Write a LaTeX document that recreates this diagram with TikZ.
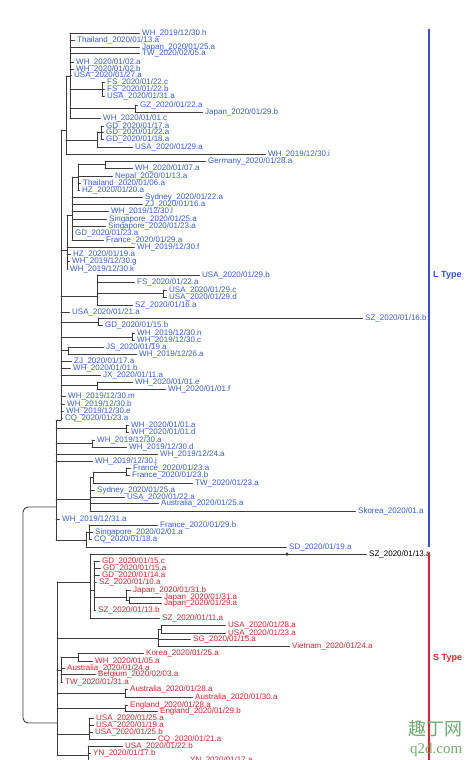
\documentclass[tikz,border=0pt]{standalone}
\usepackage{fontspec}
\setmainfont{Liberation Sans}
\newfontfamily\cjkfont{Noto Sans CJK SC}
\newfontfamily\serfont{Liberation Serif}
\definecolor{lblue}{RGB}{55,95,225}
\definecolor{lred}{RGB}{225,35,45}
\definecolor{barblue}{RGB}{50,80,240}
\definecolor{barred}{RGB}{235,30,40}
\definecolor{treec}{RGB}{60,60,60}
\definecolor{wmark}{RGB}{110,175,110}
\tikzset{
 br/.style={draw=treec, line width=0.9pt, line cap=round},
 labbase/.style={anchor=west, inner sep=0pt, font=\fontsize{8}{8}\selectfont},
 labL/.style={labbase, text=lblue},
 labS/.style={labbase, text=lred},
 labK/.style={labbase, text=black},
 typelab/.style={anchor=west, inner sep=0pt, font=\bfseries\fontsize{9}{9}\selectfont},
}
% leaf: style, name, parent x, label x, y, text
\newcommand\lf[6]{\node[#1] (#2) at (#4,#5) {#6};\coordinate (#2p) at (#3,#5);\draw[br] (#2p) -- ([xshift=-2.5pt]#2.west);}
% vertical of an inner node: name, x, ytop, ybottom
\newcommand\vn[4]{\coordinate (#1t) at (#2,#3);\coordinate (#1b) at (#2,#4);\draw[br] (#1t) -- (#1b);}
% horizontal join: name, x from, x to, y
\newcommand\hj[4]{\coordinate (#1l) at (#2,#4);\coordinate (#1r) at (#3,#4);\draw[br] (#1l) -- (#1r);}
\begin{document}
\begin{tikzpicture}[x=1pt,y=-1pt]
\fill[white] (0,0) rectangle (473,760);
\useasboundingbox (0,0) rectangle (473,760);
% ---------- L type backbone
\vn{B1}{70}{33}{118}
\vn{B2}{66}{76}{154}
\hj{j1}{66}{70}{76}
\vn{B3}{61}{130}{420}
\hj{j2}{61}{66}{130}
\vn{B4}{56}{420}{540}
\hj{j3}{56}{61}{420}
% top clade
\lf{labL}{l1}{70}{142}{33}{WH\_2019/12/30.h}
\lf{labL}{l2}{70}{77}{40}{Thailand\_2020/01/13.a}
\lf{labL}{l3}{70}{142}{47}{Japan\_2020/01/25.a}
\lf{labL}{l4}{70}{142}{53}{TW\_2020/02/05.a}
\lf{labL}{l5}{70}{76}{62}{WH\_2020/01/02.a}
\lf{labL}{l6}{70}{76}{69}{WH\_2020/01/02.b}
\lf{labL}{l7}{70}{74}{75}{USA\_2020/01/27.a}
\vn{N1}{102}{82}{96}\hj{j4}{70}{102}{89}
\lf{labL}{l8}{102}{107}{82}{FS\_2020/01/22.c}
\lf{labL}{l9}{102}{107}{89}{FS\_2020/01/22.b}
\lf{labL}{l10}{102}{107}{96}{USA\_2020/01/31.a}
\vn{N2}{135}{105}{112}\hj{j5}{70}{135}{108}
\lf{labL}{l11}{135}{140}{105}{GZ\_2020/01/22.a}
\lf{labL}{l12}{135}{205}{112}{Japan\_2020/01/29.b}
\lf{labL}{l13}{70}{103}{118}{WH\_2020/01/01.c}
% GD clade
\vn{N3}{101}{126}{139}\vn{N4}{97}{132}{147}
\hj{j6}{97}{101}{132}\hj{j7}{66}{97}{140}
\lf{labL}{l14}{101}{106}{126}{GD\_2020/01/17.a}
\lf{labL}{l15}{101}{106}{132}{GD\_2020/01/22.a}
\lf{labL}{l16}{101}{106}{139}{GD\_2020/01/18.a}
\lf{labL}{l17}{97}{135}{147}{USA\_2020/01/29.a}
\lf{labL}{l18}{66}{268}{154}{WH\_2019/12/30.i}
% C clade
\vn{C1}{78}{164}{190}
\vn{N5}{105}{161}{168}\hj{j8}{78}{105}{164}
\lf{labL}{l19}{105}{208}{161}{Germany\_2020/01/28.a}
\lf{labL}{l20}{105}{135}{168}{WH\_2020/01/07.a}
\lf{labL}{l21}{78}{115}{176}{Nepal\_2020/01/13.a}
\lf{labL}{l22}{78}{83}{183}{Thailand\_2020/01/06.a}
\lf{labL}{l23}{78}{82}{190}{HZ\_2020/01/20.a}
\vn{C2}{72}{177}{240}\hj{j9}{72}{78}{177}
\lf{labL}{l24}{72}{145}{197}{Sydney\_2020/01/22.a}
\lf{labL}{l25}{72}{145}{204}{ZJ\_2020/01/16.a}
\lf{labL}{l26}{72}{111}{211}{WH\_2019/12/30.l}
\lf{labL}{l27}{72}{109}{219}{Singapore\_2020/01/25.a}
\lf{labL}{l28}{72}{108}{226}{Singapore\_2020/01/23.a}
\lf{labL}{l29}{72}{75}{233}{GD\_2020/01/23.a}
\lf{labL}{l30}{72}{106}{240}{France\_2020/01/29.a}
\vn{C3}{67}{215}{269}\hj{j10}{67}{72}{215}
\lf{labL}{l31}{67}{137}{247}{WH\_2019/12/30.f}
\lf{labL}{l32}{67}{73}{254}{HZ\_2020/01/19.a}
\lf{labL}{l33}{67}{72}{261}{WH\_2019/12/30.g}
\lf{labL}{l34}{67}{70}{269}{WH\_2019/12/30.k}
\hj{j11}{61}{67}{250}
% D clade
\vn{D1}{97}{275}{305}\hj{j12}{61}{97}{296}
\lf{labL}{l35}{97}{202}{275}{USA\_2020/01/29.b}
\lf{labL}{l36}{97}{137}{282}{FS\_2020/01/22.a}
\vn{N6}{163}{290}{297}\hj{j13}{97}{163}{293}
\lf{labL}{l37}{163}{169}{290}{USA\_2020/01/29.c}
\lf{labL}{l38}{163}{169}{297}{USA\_2020/01/29.d}
\lf{labL}{l39}{97}{135}{305}{SZ\_2020/01/16.a}
\lf{labL}{l40}{61}{72}{312}{USA\_2020/01/21.a}
\vn{N7}{98}{318}{325}\hj{j14}{61}{98}{322}
\lf{labL}{l41}{98}{365}{318}{SZ\_2020/01/16.b}
\lf{labL}{l42}{98}{105}{325}{GD\_2020/01/15.b}
\vn{N8}{132}{333}{340}\hj{j15}{61}{132}{337}
\lf{labL}{l43}{132}{137}{333}{WH\_2019/12/30.n}
\lf{labL}{l44}{132}{137}{340}{WH\_2019/12/30.c}
\vn{N9}{68}{347}{354}\hj{j16}{61}{68}{350}
\lf{labL}{l45}{68}{106}{347}{JS\_2020/01/19.a}
\lf{labL}{l46}{68}{139}{354}{WH\_2019/12/26.a}
\lf{labL}{l47}{61}{74}{361}{ZJ\_2020/01/17.a}
\lf{labL}{l48}{61}{73}{368}{WH\_2020/01/01.b}
\lf{labL}{l49}{61}{103}{375}{JX\_2020/01/11.a}
\vn{N10}{97}{382}{389}\hj{j17}{61}{97}{385}
\lf{labL}{l50}{97}{135}{382}{WH\_2020/01/01.e}
\lf{labL}{l51}{97}{168}{389}{WH\_2020/01/01.f}
\lf{labL}{l52}{61}{68}{396}{WH\_2019/12/30.m}
\lf{labL}{l53}{61}{67}{404}{WH\_2019/12/30.b}
\lf{labL}{l54}{61}{66}{411}{WH\_2019/12/30.e}
\lf{labL}{l55}{61}{65}{418}{CQ\_2020/01/23.a}
% B4 part
\vn{N11}{126}{425}{432}\hj{j18}{56}{126}{428}
\lf{labL}{l56}{126}{131}{425}{WH\_2020/01/01.a}
\lf{labL}{l57}{126}{131}{432}{WH\_2020/01/01.d}
\vn{N12}{92}{440}{447}\hj{j19}{56}{92}{443}
\lf{labL}{l58}{92}{97}{440}{WH\_2019/12/30.a}
\lf{labL}{l59}{92}{129}{447}{WH\_2019/12/30.d}
\lf{labL}{l60}{56}{160}{454}{WH\_2019/12/24.a}
\lf{labL}{l61}{56}{95}{461}{WH\_2019/12/30.j}
\vn{E1}{90}{477}{511}\hj{j20}{56}{90}{499}
\vn{F2}{93}{472}{483}\hj{j21}{90}{93}{477}
\vn{F1}{126}{468}{475}\hj{j22}{93}{126}{472}
\lf{labL}{l62}{126}{133}{468}{France\_2020/01/23.a}
\lf{labL}{l63}{126}{132}{475}{France\_2020/01/23.b}
\lf{labL}{l64}{93}{195}{483}{TW\_2020/01/23.a}
\lf{labL}{l65}{90}{97}{490}{Sydney\_2020/01/25.a}
\lf{labL}{l66}{90}{127}{497}{USA\_2020/01/22.a}
\lf{labL}{l67}{90}{161}{503}{Australia\_2020/01/25.a}
\lf{labL}{l68}{90}{358}{511}{Skorea\_2020/01.a}
\lf{labL}{l69}{56}{62}{519}{WH\_2019/12/31.a}
\vn{G2}{86}{532}{547}\hj{j23}{56}{86}{540}
\vn{G1}{89}{525}{539}\hj{j24}{86}{89}{532}
\lf{labL}{l70}{89}{160}{525}{France\_2020/01/29.b}
\lf{labL}{l71}{89}{95}{532}{Singapore\_2020/02/01.a}
\lf{labL}{l72}{89}{94}{539}{CQ\_2020/01/18.a}
\lf{labL}{l73}{86}{289}{547}{SD\_2020/01/19.a}
% ---------- root
\coordinate (rt) at (56,507);
\coordinate (rb) at (57,723);
\draw[br, rounded corners=5pt] (rt) -- (23,507) -- (23,723) -- (rb);
% ---------- S type
\vn{S1}{90}{554}{618}
\vn{SB}{57}{582}{755}
\hj{j25}{57}{90}{582}
\lf{labK}{k1}{90}{369}{554}{SZ\_2020/01/13.a}
\node[circle, fill=treec, inner sep=0pt, minimum size=3.5pt] (dot) at (287,554) {};
\vn{S2}{94}{561}{610}\hj{j26}{90}{94}{590}
\lf{labS}{s1}{94}{102}{561}{GD\_2020/01/15.c}
\lf{labS}{s2}{94}{103}{568}{GD\_2020/01/15.a}
\lf{labS}{s3}{94}{102}{575}{GD\_2020/01/14.a}
\lf{labS}{s4}{94}{99}{582}{SZ\_2020/01/10.a}
\vn{J1}{126}{590}{600}\hj{j27}{94}{126}{597}
\vn{J2}{129}{597}{603}\hj{j28}{126}{129}{600}
\lf{labS}{s5}{126}{133}{590}{Japan\_2020/01/31.b}
\lf{labS}{s6}{129}{164}{597}{Japan\_2020/01/31.a}
\lf{labS}{s7}{129}{164}{603}{Japan\_2020/01/29.a}
\lf{labS}{s8}{94}{98}{610}{SZ\_2020/01/13.b}
\lf{labS}{s9}{90}{162}{618}{SZ\_2020/01/11.a}
\vn{H1}{158}{629}{646}\hj{j29}{57}{158}{638}
\vn{H2}{161}{625}{633}\hj{j30}{158}{161}{629}
\lf{labS}{s10}{161}{228}{625}{USA\_2020/01/28.a}
\lf{labS}{s11}{161}{228}{633}{USA\_2020/01/23.a}
\lf{labS}{s12}{158}{193}{639}{SG\_2020/01/15.a}
\lf{labS}{s13}{158}{292}{646}{Vietnam\_2020/01/24.a}
\vn{K2}{61}{657}{682}\hj{j31}{57}{61}{670}
\vn{K1}{78}{653}{661}\hj{j32}{61}{78}{657}
\lf{labS}{s14}{78}{146}{653}{Korea\_2020/01/25.a}
\lf{labS}{s15}{78}{95}{661}{WH\_2020/01/05.a}
\lf{labS}{s16}{61}{67}{668}{Australia\_2020/01/24.a}
\lf{labS}{s17}{61}{98}{674}{Belgium\_2020/02/03.a}
\lf{labS}{s18}{61}{65}{682}{TW\_2020/01/31.a}
\vn{A1}{125}{689}{697}\hj{j33}{57}{125}{693}
\lf{labS}{s19}{125}{130}{689}{Australia\_2020/01/28.a}
\lf{labS}{s20}{125}{195}{697}{Australia\_2020/01/30.a}
\vn{A2}{125}{705}{711}\hj{j34}{57}{125}{708}
\lf{labS}{s21}{125}{130}{705}{England\_2020/01/28.a}
\lf{labS}{s22}{125}{160}{711}{England\_2020/01/29.b}
\vn{U1}{89}{718}{739}\hj{j35}{57}{89}{734}
\lf{labS}{s23}{89}{96}{718}{USA\_2020/01/25.a}
\lf{labS}{s24}{89}{96}{725}{USA\_2020/01/19.a}
\lf{labS}{s25}{89}{95}{732}{USA\_2020/01/25.b}
\lf{labS}{s26}{89}{158}{739}{CQ\_2020/01/21.a}
\vn{Y1}{88}{746}{760}\hj{j36}{57}{88}{755}
\lf{labS}{s27}{88}{125}{746}{USA\_2020/01/22.b}
\lf{labS}{s28}{88}{93}{753}{YN\_2020/01/17.b}
\lf{labS}{s29}{88}{190}{760}{YN\_2020/01/17.a}
% ---------- type bars
\coordinate (Lt) at (429,29); \coordinate (Lb) at (429,547);
\coordinate (St) at (429,553); \coordinate (Sb) at (429,760);
\draw[barblue, line width=2pt] (Lt) -- (Lb);
\draw[barred, line width=2pt] (St) -- (Sb);
\node[typelab, text=barblue] (Ltype) at (433,275) {L Type};
\node[typelab, text=barred] (Stype) at (433,658) {S Type};
% ---------- watermark
\node[anchor=west, inner sep=0pt, text=wmark, font=\cjkfont\fontsize{18}{18}\selectfont] (wm1) at (408,729) {趣丁网};
\node[anchor=west, inner sep=0pt, text=wmark, font=\serfont\fontsize{15}{15}\selectfont] (wm2) at (410,750) {q2d.com};
\end{tikzpicture}
\end{document}
